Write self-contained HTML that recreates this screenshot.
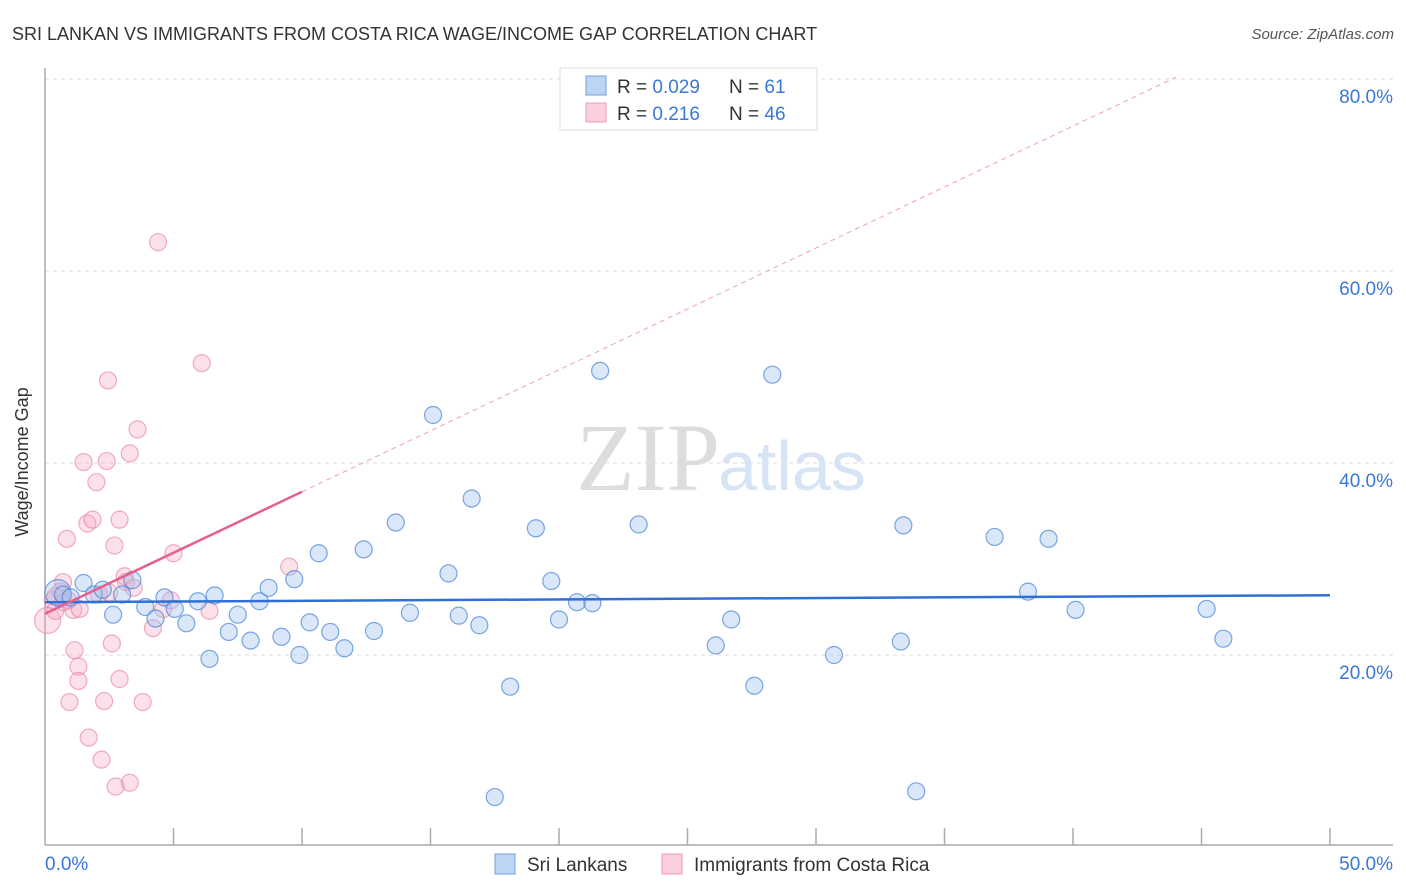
<!DOCTYPE html>
<html><head><meta charset="utf-8"><style>
body{margin:0;background:#fff;font-family:"Liberation Sans",sans-serif;}
svg{display:block}
</style></head><body>
<svg id="chart" width="1406" height="892">
<text x="12" y="40" font-size="18" fill="#333">SRI LANKAN VS IMMIGRANTS FROM COSTA RICA WAGE/INCOME GAP CORRELATION CHART</text>
<text x="1394" y="39" font-size="15" fill="#555" font-style="italic" text-anchor="end">Source: ZipAtlas.com</text>
<g id="grid"></g>
<text x="720" y="490" font-size="96" fill="#ddd" text-anchor="end" font-family="Liberation Serif">ZIP</text>
<text x="718" y="490" font-size="70" fill="#d6e4f5">atlas</text>
<line x1="45" y1="68" x2="45" y2="845" stroke="#aaa" stroke-width="1.5"/>
<line x1="45" y1="845" x2="1393" y2="845" stroke="#aaa" stroke-width="1.5"/>
<g id="ticks"></g>
<g id="pts"></g>
<g id="trends"></g>
<text x="22" y="456" font-size="18" fill="#333" transform="rotate(-90 28 456)" text-anchor="middle">Wage/Income Gap</text>
<text x="45" y="870" font-size="19" fill="#3a78d6">0.0%</text>
<text x="1393" y="870" font-size="19" fill="#3a78d6" text-anchor="end">50.0%</text>
<g>
<rect x="560" y="68" width="257" height="62" fill="#fff" stroke="#ddd"/>
<rect x="586" y="76" width="20" height="19" fill="#bcd5f5" stroke="#6fa0e0"/>
<rect x="586" y="103" width="20" height="19" fill="#fbcfdc" stroke="#ee9ab5"/>
<text x="617" y="93" font-size="19" fill="#333">R = <tspan fill="#3a78d6">0.029</tspan><tspan x="729">N = </tspan><tspan fill="#3a78d6"> 61</tspan></text>
<text x="617" y="120" font-size="19" fill="#333">R = <tspan fill="#3a78d6"> 0.216</tspan><tspan x="729">N = </tspan><tspan fill="#3a78d6">46</tspan></text>
</g>
<g>
<rect x="495" y="854" width="20" height="20" fill="#bcd5f5" stroke="#6fa0e0"/>
<text x="527" y="871" font-size="19" fill="#333">Sri Lankans</text>
<rect x="662" y="854" width="20" height="20" fill="#fbcfdc" stroke="#ee9ab5"/>
<text x="694" y="871" font-size="19" fill="#333">Immigrants from Costa Rica</text>
</g>
</svg>
<script>
const yTicks=[20,40,60,80];
const blueX=[0.5,0.7,1,1.5,1.9,2.25,2.65,3,3.4,3.9,4.3,4.65,5.05,5.5,5.95,6.4,6.6,7.15,7.5,8.0,8.35,8.7,9.2,9.7,9.9,10.3,10.65,11.1,11.65,12.4,12.8,13.65,14.2,15.1,15.7,16.1,16.6,16.9,18.1,17.5,19.1,19.7,20,20.7,21.3,21.6,23.1,26.1,26.7,27.6,28.3,30.7,33.3,33.4,33.9,36.95,38.25,39.05,40.1,45.2,45.85];
const blueY=[26.5,26.3,26,27.5,26.3,26.8,24.2,26.3,27.8,25,23.8,26,24.8,23.3,25.6,19.6,26.2,22.4,24.2,21.5,25.6,27,21.9,27.9,20,23.4,30.6,22.4,20.7,31,22.5,33.8,24.4,45,28.5,24.1,36.3,23.1,16.7,5.2,33.2,27.7,23.7,25.5,25.4,49.6,33.6,21,23.7,16.8,49.2,20,21.4,33.5,5.8,32.3,26.6,32.1,24.7,24.8,21.7];
const pinkX=[0.1,0.3,0.4,0.6,0.7,0.85,0.9,0.95,1.1,1.15,1.3,1.3,1.35,1.5,1.65,1.7,1.85,2,2.2,2.3,2.4,2.45,2.6,2.7,2.75,2.9,2.9,3.1,3.15,3.3,3.3,3.45,3.6,3.8,4.2,4.4,4.6,4.9,5.0,6.1,6.4,9.5,0.4,0.7,2.1,2.5];
const pinkY=[23.6,25.7,24.6,26.6,27.6,32.1,25.7,15.1,24.7,20.5,18.8,17.3,24.8,40.1,33.7,11.4,34.1,38,9.1,15.2,40.2,48.6,21.2,31.4,6.3,17.5,34.1,28.2,27.6,6.7,41,27,43.5,15.1,22.8,63,24.8,25.7,30.6,50.4,24.6,29.2,26.1,25.5,26.3,26.5];
const big=new Set([0]);
const X=v=>45+v/50*1285, Y=v=>847-v*9.6;
const ns="http://www.w3.org/2000/svg";
function mk(t,a,p){const e=document.createElementNS(ns,t);for(const k in a)e.setAttribute(k,a[k]);p.appendChild(e);return e;}
const grid=document.getElementById('grid'),svg=document.getElementById('chart');
yTicks.forEach(t=>{const l=mk('line',{x1:45,x2:1393,y1:Y(t),y2:Y(t),stroke:'#ddd','stroke-dasharray':'4 4'},grid);


const tx=mk('text',{x:1393,y:Y(t)+24,'font-size':19,fill:'#3a78d6','text-anchor':'end'},svg);tx.textContent=t.toFixed(1)+'%';

});
const tk=document.getElementById('ticks');
for(let i=1;i<=10;i++){const l=mk('line',{x1:X(i*5),x2:X(i*5),y1:828,y2:845,stroke:'#aaa','stroke-width':1.5},tk);

}
const pts=document.getElementById('pts');
pinkX.forEach((x,i)=>{const c=mk('circle',{cx:X(x),cy:Y(pinkY[i]),r:i==0?13:8.5,fill:'rgba(246,170,195,0.35)',stroke:'rgba(232,120,155,0.6)','stroke-width':1.2},pts);

});
blueX.forEach((x,i)=>{const c=mk('circle',{cx:X(x),cy:Y(blueY[i]),r:i==0?13:8.5,fill:'rgba(160,195,240,0.4)',stroke:'rgba(70,130,215,0.7)','stroke-width':1.2},pts);

});
const tr=document.getElementById('trends');
const bI=25.5,bS=0.0145,pI=24.3,pS=1.27;
let l=mk('line',{x1:X(0),y1:Y(bI),x2:X(50),y2:Y(bI+bS*50),stroke:'#2f6fd6','stroke-width':2.5},tr);


l=mk('line',{x1:X(0),y1:Y(pI),x2:X(10),y2:Y(pI+pS*10),stroke:'#e4608e','stroke-width':2.5},tr);


l=mk('line',{x1:X(10),y1:Y(pI+pS*10),x2:X(44),y2:Y(pI+pS*44),stroke:'#eea0b8','stroke-width':1,'stroke-dasharray':'5 4'},tr);


</script>
</body></html>
